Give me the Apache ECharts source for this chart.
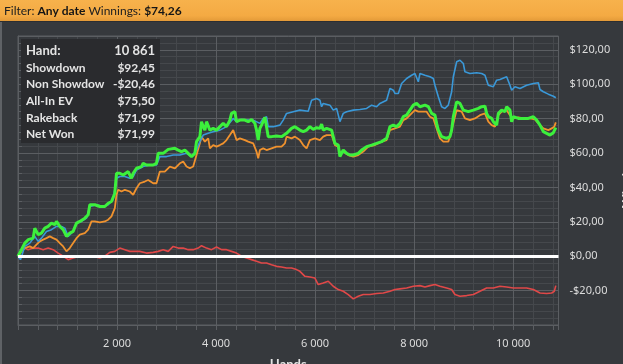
<!DOCTYPE html>
<html><head><meta charset="utf-8">
<script src="https://cdn.jsdelivr.net/npm/echarts@6/dist/echarts.min.js"></script>
<style>html,body{margin:0;padding:0;background:#36393d;overflow:hidden}#c{width:623px;height:364px}</style>
</head><body><div id="c"></div>
<script>
// ---- data (hands, dollars) ----
const showdown = [[0,0],[50,-2.0],[137,5.7],[238,7.6],[339,11.5],[407,8.6],[474,10.5],[575,14.4],[676,15.4],[777,17.3],[878,17.3],[945,16.3],[1013,11.5],[1114,14.4],[1181,19.2],[1282,20.2],[1383,22.1],[1450,28.9],[1585,29.9],[1720,28.9],[1821,29.9],[1922,32.8],[1989,45.3],[2056,46.3],[2157,46.3],[2258,45.3],[2326,46.3],[2393,50.1],[2528,52.1],[2662,53.0],[2797,53.0],[2864,57.9],[2999,57.9],[3134,58.8],[3269,58.8],[3403,59.8],[3504,57.9],[3605,61.7],[3673,66.6],[3740,70.4],[3841,71.4],[3942,72.4],[4077,73.3],[4211,75.3],[4346,80.1],[4413,78.2],[4514,79.5],[4649,79.1],[4750,79.1],[4885,77.2],[4952,80.1],[5019,81.1],[5053,75.3],[5154,75.3],[5289,76.2],[5356,79.1],[5423,83.0],[5558,84.0],[5692,84.9],[5861,84.3],[5929,90.7],[6030,91.7],[6097,90.7],[6131,86.9],[6164,88.8],[6299,87.8],[6366,84.9],[6434,85.9],[6501,78.2],[6568,83.0],[6636,84.0],[6770,84.9],[6905,85.3],[7040,85.9],[7141,87.8],[7242,86.9],[7309,88.8],[7444,90.7],[7511,97.5],[7579,96.5],[7612,94.6],[7680,94.6],[7747,100.4],[7848,103.3],[7949,105.2],[8016,106.2],[8084,101.4],[8117,106.2],[8218,105.2],[8319,104.3],[8387,103.3],[8420,99.4],[8488,92.7],[8555,86.9],[8622,85.9],[8690,87.8],[8757,95.6],[8791,104.3],[8858,113.0],[8925,113.9],[8993,112.0],[9026,107.2],[9127,106.2],[9262,106.6],[9363,106.2],[9430,105.2],[9498,99.4],[9599,98.5],[9666,102.3],[9733,102.7],[9868,104.3],[9935,99.4],[9969,96.5],[10036,98.5],[10137,97.5],[10272,99.4],[10407,100.4],[10508,100.8],[10541,96.9],[10609,95.6],[10710,94.2],[10811,93.0],[10861,92.1]];

const nonShowdown = [[0,0],[70,2.8],[137,4.7],[205,3.8],[306,4.7],[407,4.7],[508,3.8],[609,4.7],[710,3.8],[811,1.8],[912,0],[1013,-2.0],[1114,-1.1],[1248,0],[1383,0],[1518,0],[1652,-1.1],[1753,0],[1854,2.2],[1955,2.8],[2056,4.7],[2157,3.8],[2258,2.8],[2359,2.8],[2460,2.8],[2595,1.8],[2730,2.2],[2831,2.8],[2932,3.8],[3033,2.8],[3134,5.7],[3235,4.7],[3336,4.7],[3437,3.8],[3538,3.8],[3639,4.7],[3706,6.1],[3807,4.7],[3908,3.8],[4009,5.3],[4110,3.8],[4211,3.8],[4312,2.8],[4413,1.8],[4514,0],[4615,-1.1],[4716,-2.0],[4817,-3.0],[4918,-4.0],[5019,-4.0],[5120,-5.0],[5221,-5.9],[5322,-6.3],[5423,-6.9],[5524,-6.9],[5625,-7.8],[5693,-8.8],[5794,-11.7],[5895,-12.1],[5996,-12.7],[6063,-16.5],[6164,-15.6],[6265,-14.6],[6366,-17.5],[6467,-19.4],[6568,-20.4],[6669,-22.3],[6770,-24.8],[6871,-23.3],[6972,-22.3],[7107,-22.3],[7242,-21.7],[7377,-21.4],[7511,-20.4],[7612,-19.4],[7713,-19.0],[7848,-18.5],[7983,-17.5],[8117,-17.1],[8218,-17.9],[8319,-17.1],[8420,-16.5],[8521,-17.5],[8656,-18.5],[8757,-19.4],[8824,-22.3],[8925,-23.3],[9060,-22.9],[9195,-22.3],[9329,-20.4],[9464,-18.5],[9599,-18.5],[9733,-17.5],[9868,-17.9],[10003,-18.5],[10137,-18.5],[10272,-18.5],[10407,-19.4],[10541,-21.4],[10676,-21.7],[10777,-21.4],[10830,-20.4],[10861,-17.1]];

const allInEV = [[0,0],[70,2.8],[137,4.7],[238,5.7],[306,4.7],[373,6.7],[440,8.6],[508,9.6],[575,10.5],[642,11.5],[710,10.5],[777,9.6],[844,7.6],[912,5.7],[979,2.8],[1046,4.7],[1114,7.6],[1181,10.5],[1248,12.5],[1349,13.4],[1417,15.4],[1484,20.2],[1551,20.2],[1652,19.6],[1753,20.2],[1821,21.2],[1888,23.1],[1955,27.9],[1989,35.7],[2023,38.6],[2090,37.6],[2157,38.6],[2258,37.6],[2326,35.7],[2393,39.5],[2460,42.4],[2561,43.4],[2629,44.3],[2730,42.4],[2797,42.4],[2864,49.2],[2965,49.2],[3067,52.1],[3168,51.1],[3269,54.0],[3336,55.0],[3403,52.1],[3471,51.1],[3538,52.1],[3605,58.8],[3673,65.6],[3706,69.5],[3774,66.6],[3841,68.5],[3875,62.7],[3942,64.6],[4009,63.7],[4077,64.6],[4144,65.6],[4211,67.5],[4279,70.4],[4346,73.3],[4413,67.5],[4481,68.5],[4582,67.5],[4649,66.6],[4750,65.6],[4817,60.8],[4851,56.9],[4885,61.7],[4952,62.7],[5019,61.7],[5120,62.7],[5221,63.7],[5322,63.7],[5390,65.6],[5423,69.5],[5524,68.5],[5592,69.5],[5692,67.5],[5760,64.6],[5828,62.7],[5895,67.5],[5996,68.5],[6097,67.5],[6164,69.5],[6232,70.4],[6333,70.4],[6366,67.5],[6400,64.6],[6467,63.7],[6501,59.8],[6568,60.8],[6669,58.8],[6770,57.9],[6871,58.8],[6972,60.8],[7073,63.7],[7208,64.6],[7343,66.6],[7444,67.5],[7511,73.3],[7612,74.3],[7713,75.3],[7781,79.1],[7848,80.1],[7949,83.0],[8016,84.9],[8084,84.0],[8151,84.0],[8252,84.0],[8319,81.1],[8387,80.1],[8454,74.3],[8521,68.5],[8589,66.6],[8690,66.6],[8723,69.5],[8791,77.2],[8858,84.9],[8959,84.0],[9026,80.1],[9127,79.1],[9228,80.1],[9329,82.0],[9430,83.0],[9498,78.2],[9565,76.2],[9632,75.3],[9700,82.0],[9767,84.0],[9868,84.9],[9935,82.0],[10003,80.1],[10104,80.7],[10205,80.1],[10339,80.1],[10440,79.5],[10508,77.2],[10609,74.3],[10710,73.3],[10777,74.3],[10830,75.3],[10861,77.8]];

const netWon = [[0,0],[70,3.8],[137,7.6],[205,9.6],[306,10.5],[339,16.3],[373,15.4],[407,12.5],[474,13.4],[541,16.3],[609,17.3],[676,19.2],[743,18.3],[777,20.2],[844,17.3],[912,15.4],[979,11.5],[1013,10.5],[1046,13.4],[1114,14.4],[1181,19.2],[1248,20.2],[1349,22.1],[1417,24.1],[1450,29.9],[1551,29.9],[1652,28.9],[1753,28.9],[1821,30.8],[1888,31.8],[1955,36.6],[1989,48.2],[2056,48.2],[2124,47.2],[2225,49.2],[2292,45.3],[2326,48.2],[2393,51.1],[2494,52.1],[2528,54.0],[2595,53.0],[2730,53.0],[2797,54.0],[2831,59.8],[2932,59.8],[3033,62.1],[3168,62.7],[3235,61.7],[3302,60.8],[3370,61.7],[3437,59.8],[3504,57.9],[3572,59.8],[3605,66.6],[3673,69.5],[3706,78.2],[3740,75.3],[3774,73.3],[3807,78.2],[3841,79.1],[3875,73.3],[3942,74.3],[4009,73.3],[4077,75.3],[4144,77.2],[4211,75.3],[4279,79.1],[4312,83.0],[4380,84.0],[4413,78.2],[4481,79.1],[4582,79.1],[4649,78.2],[4716,79.5],[4784,77.2],[4817,73.3],[4851,67.5],[4885,74.3],[4918,76.2],[4986,80.7],[5019,75.3],[5053,69.5],[5120,69.5],[5221,69.9],[5322,69.5],[5423,71.4],[5524,74.3],[5592,75.3],[5692,73.3],[5760,72.4],[5828,73.3],[5895,75.3],[5962,73.7],[6030,74.7],[6097,74.3],[6131,76.8],[6164,73.3],[6232,74.3],[6333,73.3],[6366,69.5],[6400,65.6],[6467,64.6],[6501,57.9],[6568,61.7],[6636,59.8],[6703,58.8],[6770,58.8],[6871,59.8],[6939,61.7],[7040,63.7],[7141,64.6],[7242,65.6],[7343,66.6],[7444,68.5],[7511,75.3],[7579,76.2],[7646,75.3],[7713,77.2],[7747,79.1],[7781,81.1],[7848,82.0],[7915,84.9],[7983,87.8],[8050,88.8],[8117,86.9],[8218,87.8],[8286,86.9],[8353,83.0],[8420,82.0],[8454,77.2],[8488,73.3],[8555,69.5],[8656,68.5],[8723,69.5],[8757,73.3],[8791,81.1],[8858,89.8],[8925,88.8],[8993,84.9],[9094,84.0],[9195,84.9],[9296,85.9],[9363,86.9],[9430,87.2],[9464,83.0],[9498,81.1],[9565,80.1],[9599,78.2],[9666,76.2],[9700,83.0],[9767,84.9],[9834,84.0],[9868,86.9],[9935,84.9],[9969,78.2],[10003,81.1],[10104,80.1],[10205,80.1],[10306,80.1],[10407,81.1],[10474,79.1],[10541,76.2],[10609,72.4],[10676,71.4],[10743,70.4],[10811,71.8],[10840,72.4],[10861,74.7]];

const statLabels = ['Hand:', 'Showdown', 'Non Showdown', 'All-In EV', 'Rakeback', 'Net Won'];
const statValues = ['10 861', '$92,45', '-$20,46', '$75,50', '$71,99', '$71,99'];
const filterText = ['Filter: ', 'Any date', ' Winnings: ', '$74,26'];
const xMax = 10915, yMin = -40, yMax = 128;

// ---- styling ----
const BG = '#36393d', MAJOR = '#5b5e62', MINOR = '#45484c', TXT = '#dcdcdc';
const fmtX = v => (v % 2000 === 0 && v > 0) ? String(v).replace(/\B(?=(\d{3})+(?!\d))/g, ' ') : '';
const fmtY = v => (v % 20 === 0 && v > yMin) ? (v < 0 ? '-' : '') + '$' + Math.abs(v).toFixed(2).replace('.', ',') : '';

const chart = echarts.init(document.getElementById('c'), null, {renderer: 'canvas'});

const legendEls = [{type: 'rect', left: 21, top: 39, z: 100, shape: {width: 139, height: 104}, style: {fill: '#2a2b2e'}}];
const rowY = [51, 67.7, 84.3, 101, 117.7, 134];
statLabels.forEach((s, i) => {
  const fs = i === 0 ? 13 : 12;
  legendEls.push({type: 'text', z: 101, x: 26, y: rowY[i], style: {text: s, fill: '#e4e4e4', font: `bold ${fs}px Lato`, verticalAlign: 'middle', textAlign: 'left', width: 84, overflow: 'truncate', ellipsis: ''}});
  legendEls.push({type: 'text', z: 101, x: 155, y: rowY[i], style: {text: statValues[i], fill: '#e4e4e4', font: `bold ${fs}px Lato`, verticalAlign: 'middle', textAlign: 'right'}});
});

const option = {
  backgroundColor: BG,
  animation: false,
  grid: {left: 18, right: 64.5, top: 36, bottom: 39, show: true, borderColor: MAJOR, borderWidth: 1, backgroundColor: BG, containLabel: false, outerBoundsMode: 'none'},
  xAxis: [
    {type: 'value', position: 'bottom', min: 0, max: xMax, interval: 400, z: 0,
     axisLine: {show: false, onZero: false}, axisLabel: {show: false},
     axisTick: {show: true, length: 5, lineStyle: {color: MAJOR}},
     splitLine: {show: true, lineStyle: {color: MINOR, width: 1}}},
    {type: 'value', position: 'bottom', min: 0, max: xMax, interval: 2000, z: 1,
     axisLine: {show: true, onZero: false, lineStyle: {color: MAJOR}},
     axisTick: {show: true, length: 5, lineStyle: {color: MAJOR}},
     axisLabel: {show: true, color: TXT, fontSize: 11, fontFamily: 'Noto Sans', margin: 13, formatter: fmtX, showMinLabel: false, showMaxLabel: false},
     splitLine: {show: true, lineStyle: {color: MAJOR, width: 1}},
     name: 'Hands', nameLocation: 'middle', nameGap: 33,
     nameTextStyle: {color: '#e4e4e4', fontWeight: 'bold', fontSize: 13, fontFamily: 'Lato'}}
  ],
  yAxis: [
    {type: 'value', position: 'right', min: yMin, max: yMax, interval: 4, z: 0,
     axisLine: {show: false}, axisLabel: {show: false},
     axisTick: {show: true, length: 4, lineStyle: {color: MAJOR}},
     splitLine: {show: true, lineStyle: {color: MINOR, width: 1}}},
    {type: 'value', position: 'right', min: yMin, max: yMax, interval: 20, z: 1,
     axisLine: {show: true, lineStyle: {color: MAJOR}},
     axisTick: {show: true, length: 7, lineStyle: {color: MAJOR}},
     axisLabel: {show: true, color: TXT, fontSize: 11, fontFamily: 'Noto Sans', margin: 11, formatter: fmtY, showMinLabel: false, showMaxLabel: false},
     splitLine: {show: true, lineStyle: {color: MAJOR, width: 1}},
     name: 'Winnings', nameLocation: 'middle', nameGap: 51,
     nameTextStyle: {color: '#e4e4e4', fontWeight: 'bold', fontSize: 13, fontFamily: 'Lato'}}
  ],
  series: [
    {name: 'Non Showdown', type: 'line', xAxisIndex: 1, yAxisIndex: 1, data: nonShowdown, showSymbol: false, symbol: 'none', lineStyle: {color: '#e04848', width: 1.6}, z: 3},
    {name: 'All-In EV', type: 'line', xAxisIndex: 1, yAxisIndex: 1, data: allInEV, showSymbol: false, symbol: 'none', lineStyle: {color: '#f0922e', width: 1.8}, z: 4},
    {name: 'Showdown', type: 'line', xAxisIndex: 1, yAxisIndex: 1, data: showdown, showSymbol: false, symbol: 'none', lineStyle: {color: '#3a98d8', width: 1.6}, z: 5},
    {name: 'Net Won', type: 'line', xAxisIndex: 1, yAxisIndex: 1, data: netWon, showSymbol: false, symbol: 'none', lineStyle: {color: '#3cf03c', width: 3}, z: 6,
     markLine: {silent: true, symbol: 'none', label: {show: false}, lineStyle: {color: '#ffffff', width: 3, type: 'solid'}, data: [{yAxis: 0}], z: 7}}
  ],
  graphic: [
    {type: 'rect', left: 0, top: 0, z: 100, shape: {width: 623, height: 21},
     style: {fill: new echarts.graphic.LinearGradient(0, 0, 0, 1, [{offset: 0, color: '#f7b24c'}, {offset: 0.75, color: '#f4aa43'}, {offset: 1, color: '#e39a38'}])}},
    {type: 'rect', left: 0, top: 21, z: 100, shape: {width: 623, height: 1}, style: {fill: '#2c2e31'}},
    {type: 'rect', left: 0, top: 22, z: 100, shape: {width: 2, height: 342}, style: {fill: '#5f6266'}},
    {type: 'text', x: 4, y: 11, z: 101, style: {
      text: `{n|${filterText[0]}}{b|${filterText[1]}}{n|${filterText[2]}}{b|${filterText[3]}}`,
      verticalAlign: 'middle', textAlign: 'left',
      rich: {n: {font: '12px Lato', fill: '#202020'}, b: {font: 'bold 12px Lato', fill: '#151515'}}}},
    ...legendEls
  ]
};
chart.setOption(option);
</script>
</body></html>
